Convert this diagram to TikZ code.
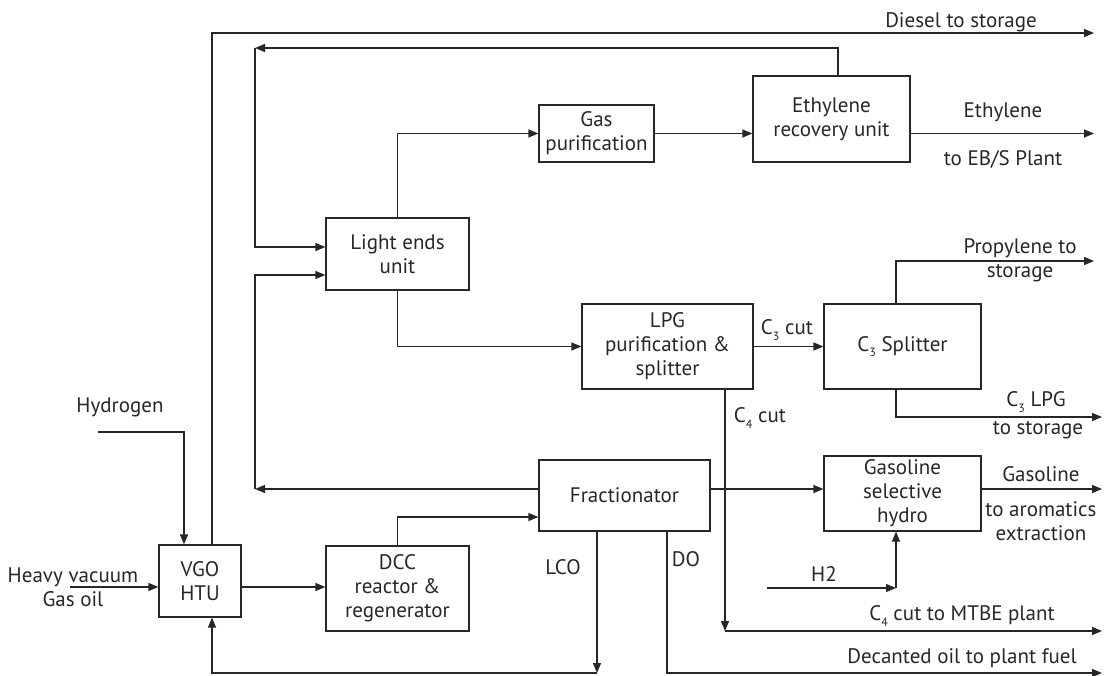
\documentclass[tikz,border=0pt]{standalone}
\usepackage{fontspec}
\setmainfont{PT Sans}
\usetikzlibrary{arrows.meta,calc}
\definecolor{ink}{RGB}{40,38,38}
\newcommand{\subs}[1]{\raisebox{-0.55ex}{\fontsize{12}{12}\selectfont #1}}
\begin{document}
\begin{tikzpicture}[x=1pt,y=-1pt,
  every node/.style={font=\fontsize{21}{24}\selectfont, text=ink},
  box/.style={draw=ink, line width=1.2pt, align=center, inner sep=0pt},
  lbl/.style={align=center, inner sep=0pt},
  conn/.style={draw=ink, line width=1.2pt},
  arr/.style={conn, -{Triangle[length=10pt,width=8pt]}}]
\useasboundingbox (0,0) rectangle (1106,676);
% boxes
\node[box, minimum width=143pt, minimum height=72pt] (light) at (397.5,254) {Light ends\\unit};
\node[box, minimum width=115pt, minimum height=57pt] (gas) at (596.5,133.5) {Gas\\purification};
\node[box, minimum width=157pt, minimum height=86pt] (eth) at (831.5,119) {Ethylene\\recovery unit};
\node[box, minimum width=171pt, minimum height=85pt] (lpg) at (667.5,346.5) {LPG\\purification \&\\splitter};
\node[box, minimum width=157pt, minimum height=85pt] (c3s) at (902.5,346.5) {C\subs{3} Splitter};
\node[box, minimum width=171pt, minimum height=71pt] (frac) at (624.5,495.5) {Fractionator};
\node[box, minimum width=157pt, minimum height=75pt] (gsh) at (902.5,493.5) {Gasoline\\selective\\hydro};
\node[box, minimum width=82pt, minimum height=72pt] (vgo) at (200,581) {VGO\\HTU};
\node[box, minimum width=143pt, minimum height=85pt] (dcc) at (397.5,588.5) {DCC\\reactor \&\\regenerator};
% coordinates
\coordinate (dieselend) at (1094,33);
\coordinate (ret1) at (255,48);
\coordinate (ret2) at (255,489);
\coordinate (ethend) at (1094,133.5);
\coordinate (propend) at (1094,261);
\coordinate (lpgend) at (1102,417);
\coordinate (c4turn) at (725,631);
\coordinate (mtbeend) at (1102,631);
\coordinate (gasend) at (1102,489);
\coordinate (h2start) at (767,588);
\coordinate (h2j) at (896,588);
\coordinate (lcob) at (597,673);
\coordinate (doend) at (1102,673);
\coordinate (hstart) at (98,432);
\coordinate (hvstart) at (70,587);
\coordinate (dccy) at (0,517);
% connectors
\draw[arr] ([xshift=12pt]vgo.north) |- (dieselend);
\draw[arr] ([xshift=6.5pt]eth.north) |- (ret1);
\draw[arr] (ret1) |- ([yshift=7pt]light.west);
\draw[arr] (frac.west |- ret2) -- (ret2);
\draw[arr] (ret2) |- ([yshift=-21pt]light.west);
\draw[arr] (light.north) |- (gas.west);
\draw[arr] (gas.east) -- (gas.east -| eth.west);
\draw[arr] (eth.east |- gas.east) -- (ethend);
\draw[arr] (light.south) |- (lpg.west);
\draw[arr] (lpg.east) -- (c3s.west);
\draw[arr] ([xshift=-6.5pt]c3s.north) |- (propend);
\draw[arr] ([xshift=-6.5pt]c3s.south) |- (lpgend);
\draw[arr] ([xshift=57.5pt]lpg.south) -- (c4turn);
\draw[arr] (c4turn) -- (mtbeend);
\draw[arr] (frac.east |- ret2) -- (gsh.west |- ret2);
\draw[arr] (gsh.east |- ret2) -- (gasend);
\draw[arr] (h2start) -- (h2j);
\draw[arr] (h2j) -- (h2j |- gsh.south);
\draw[arr] ([xshift=-27.5pt]frac.south) -- (lcob);
\draw[arr] (lcob) -| ([xshift=12pt]vgo.south);
\draw[arr] ([xshift=42.5pt]frac.south) |- (doend);
\draw[arr] (hstart) -| ([xshift=-16pt]vgo.north);
\draw[arr] (hvstart) -- (vgo.west |- hvstart);
\draw[arr] (vgo.east |- hvstart) -- (dcc.west |- hvstart);
\draw[arr] (dcc.north) |- (frac.west |- dccy);
% labels
\node[lbl] (tdiesel) at (961,22) {Diesel to storage};
\node[lbl] (teth1) at (1003,112) {Ethylene};
\node[lbl] (teth2) at (1003,159) {to EB/S Plant};
\node[lbl] (tprop) at (1020,260.5) {Propylene to\\storage};
\node[lbl] (tc3lpg) at (1036,402) {C\subs{3} LPG};
\node[lbl] (tc3lpg2) at (1038,430) {to storage};
\node[lbl] (tc3cut) at (787,330) {C\subs{3} cut};
\node[lbl] (tc4cut) at (760,418) {C\subs{4} cut};
\node[lbl] (tgas1) at (1041,474) {Gasoline};
\node[lbl] (tgas2) at (1041,521) {to aromatics\\extraction};
\node[lbl] (th2) at (824,574) {H2};
\node[lbl] (tmtbe) at (962,616) {C\subs{4} cut to MTBE plant};
\node[lbl] (tdo2) at (962,658) {Decanted oil to plant fuel};
\node[lbl] (tlco) at (563,567) {LCO};
\node[lbl] (tdo) at (686,559) {DO};
\node[lbl] (thyd) at (120,407) {Hydrogen};
\node[lbl] (thv) at (73,587) {Heavy vacuum\\Gas oil};
\end{tikzpicture}
\end{document}
